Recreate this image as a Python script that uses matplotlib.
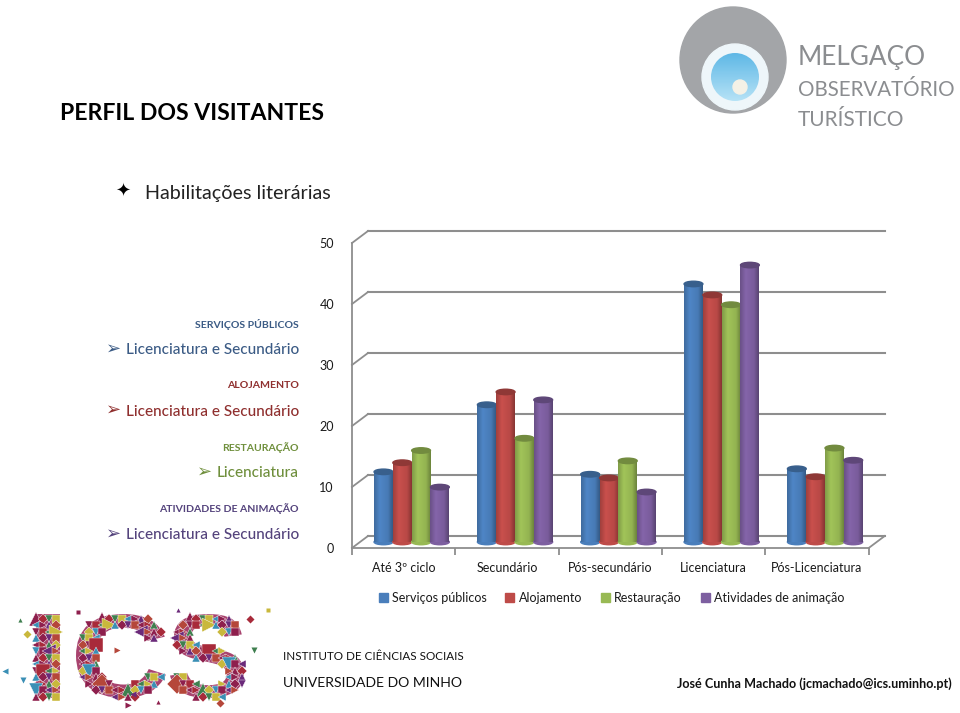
import numpy as np
import matplotlib
matplotlib.use("Agg")
import matplotlib.pyplot as plt
from matplotlib.colors import to_rgb, LinearSegmentedColormap
from matplotlib.patches import Circle, Ellipse, Patch, PathPatch
from matplotlib.path import Path
from matplotlib.textpath import TextPath
from matplotlib.font_manager import FontProperties
from matplotlib.transforms import ScaledTranslation

categories = ["Até 3º ciclo", "Secundário", "Pós-secundário", "Licenciatura", "Pós-Licenciatura"]
series_names = ["Serviços públicos", "Alojamento", "Restauração", "Atividades de animação"]
servicos = [11.5, 22.5, 11.1, 42.3, 12.0]
alojamento = [13.0, 24.6, 10.5, 40.5, 10.7]
restauracao = [15.0, 17.0, 13.3, 38.9, 15.4]
animacao = [9.0, 23.3, 8.2, 45.4, 13.4]
series_values = [servicos, alojamento, restauracao, animacao]
series_colors = ["#4a7ebb", "#be4b48", "#98b954", "#7d5fa0"]
y_ticks = [0, 10, 20, 30, 40, 50]

summary_heads = ["SERVIÇOS PÚBLICOS", "ALOJAMENTO", "RESTAURAÇÃO", "ATIVIDADES DE ANIMAÇÃO"]
summary_values = ["Licenciatura e Secundário", "Licenciatura e Secundário", "Licenciatura", "Licenciatura e Secundário"]
summary_colors = ["#3b5b85", "#8f2f2e", "#6f8f3c", "#54437c"]

plt.rcParams["font.family"] = ["Lato", "DejaVu Sans"]
W, H = 960, 713
GRID = "#8e8e8e"

fig = plt.figure(figsize=(W / 100, H / 100), dpi=100)

# page layer in pixel units, for the logos and slide text
page = fig.add_axes([0, 0, 1, 1])
page.set_xlim(0, W)
page.set_ylim(H, 0)
page.axis("off")

# front plane of the fake 3d box
left, right, base, top = 352, 868.7, 548, 243
ax = fig.add_axes([left / W, 1 - base / H, (right - left) / W, (base - top) / H])
ax.patch.set_alpha(0)


def shifted(dx, dy):
    return ax.transData + ScaledTranslation(dx / 100, dy / 100, fig.dpi_scale_trans)


def shade(color):
    base_rgb = np.array(to_rgb(color))
    stops = np.interp(np.linspace(0, 1, 24), [0, 0.3, 0.75, 1], [0.85, 1.06, 0.97, 0.72])
    return np.clip(base_rgb[None, None, :] * stops[None, :, None], 0, 1)


ax.set_xlim(0, 5)
ax.set_ylim(0, 50)

# walls: gridlines go along the back and come forward along the left side
back = shifted(16, 12)
for v in y_ticks:
    ax.plot([0, 5], [v, v], color=GRID, lw=1.5, transform=back, clip_on=False, zorder=1)
    page.plot([left, left + 16], [base - (base - top) * v / 50, base - 12 - (base - top) * v / 50],
              color=GRID, lw=1.3, zorder=1)
page.plot([right, right + 16], [base, base - 12], color=GRID, lw=1.3)

# bars sit half way into the depth
mid = shifted(8, 6)
bar_w = 0.182
cap_h = 0.9
for s, values in enumerate(series_values):
    for c, v in enumerate(values):
        x0 = c + 0.5 + (s - 2) * bar_w
        color = series_colors[s]
        dark = np.array(to_rgb(color)) * 0.75
        z = 3 + s * 0.1
        ax.add_patch(Ellipse((x0 + bar_w / 2, 0), bar_w, cap_h, color=color, transform=mid, clip_on=False, zorder=z))
        ax.imshow(shade(color), extent=[x0, x0 + bar_w, 0, v], aspect="auto", transform=mid,
                  clip_on=False, zorder=z, interpolation="bilinear")
        ax.add_patch(Ellipse((x0 + bar_w / 2, v), bar_w, cap_h, color=dark, transform=mid, clip_on=False, zorder=z + 0.01))
ax.set_xlim(0, 5)
ax.set_ylim(0, 50)

for side in ["top", "right"]:
    ax.spines[side].set_visible(False)
for side in ["left", "bottom"]:
    ax.spines[side].set_color(GRID)
    ax.spines[side].set_linewidth(1.3)
ax.set_yticks(y_ticks)
ax.tick_params(axis="y", length=0, pad=13, labelsize=9, labelcolor="#1a1a1a")
ax.set_xticks(range(6))
ax.set_xticklabels([])
ax.set_xticks(np.arange(5) + 0.5, categories, minor=True)
ax.tick_params(axis="x", which="major", length=5, color=GRID, width=1.3)
ax.tick_params(axis="x", which="minor", length=0, pad=10, labelsize=9, labelcolor="#1a1a1a")

ax.legend(handles=[Patch(color=c, label=n) for c, n in zip(series_colors, series_names)],
          ncol=4, frameon=False, fontsize=9, loc="center", bbox_to_anchor=(611.5 / W, 1 - 598 / H),
          bbox_transform=fig.transFigure, handlelength=0.72, handleheight=0.72, handletextpad=0.35,
          columnspacing=1.5, labelcolor="#1a1a1a", borderpad=0)

# slide text
page.text(60, 114, "PERFIL DOS VISITANTES", fontsize=16.6, fontweight="bold", color="black", va="center")
page.text(123, 192, "✦", family="DejaVu Sans", fontsize=13, color="black", va="center", ha="center")
page.text(145, 194, "Habilitações literárias", fontsize=14.2, color="#222222", va="center")

for i in range(4):
    y = 323 + i * 61.6
    page.text(299, y + 1, summary_heads[i], fontsize=7.55, fontweight="bold", color=summary_colors[i], ha="right", va="center")
    page.text(299, y + 27, summary_values[i], fontsize=11, fontweight="medium", color=summary_colors[i], ha="right", va="center")
    x_arrow = 114 if len(summary_values[i]) > 15 else 205
    page.text(x_arrow, y + 25.5, "➢", family="DejaVu Sans", fontsize=13, color=summary_colors[i], ha="center", va="center")

page.text(283, 656, "INSTITUTO DE CIÊNCIAS SOCIAIS", fontsize=8.35, color="#111111", va="center")
page.text(283, 683, "UNIVERSIDADE DO MINHO", fontsize=10.1, color="#111111", va="center")
page.text(952, 684, "José Cunha Machado (jcmachado@ics.uminho.pt)", fontsize=9.1, fontweight="bold", color="#111111", ha="right", va="center")

# observatory logo
page.add_patch(Circle((733, 60), 53, color="#a3a5a8"))
page.add_patch(Circle((735, 77), 33, color="#eef6fa"))
sky_map = LinearSegmentedColormap.from_list("sky", ["#5fb8e6", "#b5e2f6"])
sky = page.imshow(np.linspace(0, 1, 40)[:, None], extent=[711, 759, 101, 53], cmap=sky_map, aspect="auto", zorder=2)
sky.set_clip_path(Circle((735, 77), 24, transform=page.transData))
page.add_patch(Circle((740, 87), 7, color="#f4f1e6", zorder=3))
for label, y, size in [("MELGAÇO", 58, 18.8), ("OBSERVATÓRIO", 90, 14.8), ("TURÍSTICO", 120, 15)]:
    page.text(798, y, label, fontsize=size, color="#8b8d90", va="center")

# ICS mosaic logo: letter shapes filled with small coloured pieces
mosaic = ["#8e1f4d", "#a82a3a", "#3f7f4f", "#c9b83c", "#3a8fb5", "#8e1f4d", "#6b2a7a", "#b5473a"]
markers = ["^", "D", "v", "s", "<", ">"]
font = FontProperties(family="Liberation Sans", weight="bold")
boxes = {"I": (36, 60), "C": (76, 166), "S": (170, 244)}
for letter, (x0, x1) in boxes.items():
    tp = TextPath((0, 0), letter, size=100, prop=font)
    ext = tp.get_extents()
    verts = tp.vertices.copy()
    verts[:, 0] = x0 + (verts[:, 0] - ext.x0) / ext.width * (x1 - x0)
    verts[:, 1] = 698 - (verts[:, 1] - ext.y0) / ext.height * (698 - 614)
    shape = Path(verts, tp.codes)
    page.add_patch(PathPatch(shape, fc="#a8436e", ec="none", zorder=1))
    n = 0
    for gy in np.arange(612, 700, 6.5):
        for gx in np.arange(x0, x1 + 1, 6.5):
            if shape.contains_point((gx, gy)):
                k = n % len(mosaic)
                page.plot(gx, gy, marker=markers[n % len(markers)], ms=5.5 if n % 11 else 10,
                          color=mosaic[k], mec="white", mew=0.3, zorder=2)
                n += 1

# loose pieces around the letters
loose_x = [20, 27, 23, 78, 133, 117, 158, 250, 254, 268, 5, 128, 178, 220]
loose_y = [620, 634, 680, 612, 694, 650, 702, 619, 650, 610, 671, 705, 610, 703]
for n, (px, py) in enumerate(zip(loose_x, loose_y)):
    page.plot(px, py, marker=markers[n % len(markers)], ms=3 + n % 3, color=mosaic[(n + 2) % len(mosaic)], mec="none")

page.set_xlim(0, W)
page.set_ylim(H, 0)
fig.savefig("out.png", dpi=100)
